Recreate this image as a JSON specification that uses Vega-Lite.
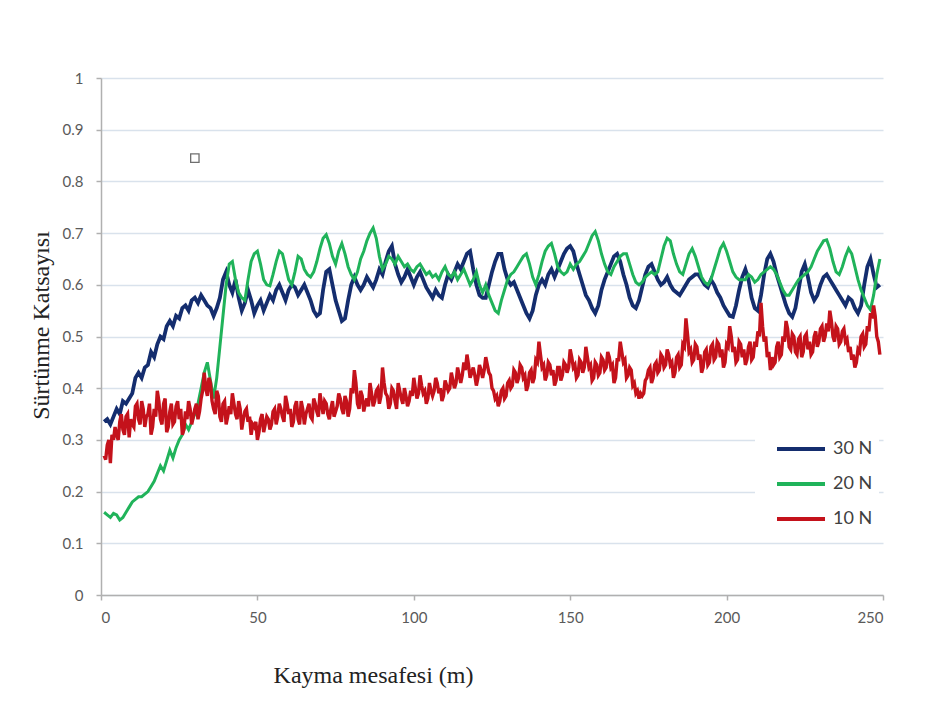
{
"$schema":"https://vega.github.io/schema/vega-lite/v6.json",
"autosize":{"type":"none"},
"width":782,"height":517,
"padding":{"left":101,"top":78,"right":51,"bottom":112},
"background":"white",
"config":{"view":{"stroke":null}},
"datasets":{
"ust":[
{"x":1,"30 N":0.335,"20 N":0.16},{"x":2,"30 N":0.34,"20 N":0.155},{"x":3,"30 N":0.33,"20 N":0.15},{"x":4,"30 N":0.345,"20 N":0.158},{"x":5,"30 N":0.36,"20 N":0.155},
{"x":6,"30 N":0.35,"20 N":0.145},{"x":7,"30 N":0.375,"20 N":0.15},{"x":8,"30 N":0.37,"20 N":0.16},{"x":9,"30 N":0.38,"20 N":0.17},{"x":10,"30 N":0.39,"20 N":0.18},
{"x":11,"30 N":0.42,"20 N":0.185},{"x":12,"30 N":0.43,"20 N":0.19},{"x":13,"30 N":0.42,"20 N":0.19},{"x":14,"30 N":0.44,"20 N":0.195},{"x":15,"30 N":0.445,"20 N":0.20},
{"x":16,"30 N":0.47,"20 N":0.21},{"x":17,"30 N":0.46,"20 N":0.22},{"x":18,"30 N":0.485,"20 N":0.235},{"x":19,"30 N":0.50,"20 N":0.25},{"x":20,"30 N":0.495,"20 N":0.24},
{"x":21,"30 N":0.52,"20 N":0.26},{"x":22,"30 N":0.53,"20 N":0.28},{"x":23,"30 N":0.52,"20 N":0.265},{"x":24,"30 N":0.54,"20 N":0.285},{"x":25,"30 N":0.535,"20 N":0.30},
{"x":26,"30 N":0.555,"20 N":0.31},{"x":27,"30 N":0.56,"20 N":0.33},{"x":28,"30 N":0.55,"20 N":0.32},{"x":29,"30 N":0.57,"20 N":0.335},{"x":30,"30 N":0.575,"20 N":0.35},
{"x":31,"30 N":0.565,"20 N":0.37},{"x":32,"30 N":0.58,"20 N":0.40},{"x":33,"30 N":0.57,"20 N":0.43},{"x":34,"30 N":0.56,"20 N":0.45},{"x":35,"30 N":0.555,"20 N":0.415},
{"x":36,"30 N":0.54,"20 N":0.38},{"x":37,"30 N":0.555,"20 N":0.42},{"x":38,"30 N":0.575,"20 N":0.48},{"x":39,"30 N":0.61,"20 N":0.54},{"x":40,"30 N":0.625,"20 N":0.60},
{"x":41,"30 N":0.60,"20 N":0.64},{"x":42,"30 N":0.585,"20 N":0.645},{"x":43,"30 N":0.61,"20 N":0.61},{"x":44,"30 N":0.575,"20 N":0.585},{"x":45,"30 N":0.55,"20 N":0.575},
{"x":46,"30 N":0.565,"20 N":0.57},{"x":47,"30 N":0.59,"20 N":0.61},{"x":48,"30 N":0.57,"20 N":0.645},{"x":49,"30 N":0.545,"20 N":0.66},{"x":50,"30 N":0.56,"20 N":0.665},
{"x":51,"30 N":0.57,"20 N":0.64},{"x":52,"30 N":0.55,"20 N":0.61},{"x":53,"30 N":0.565,"20 N":0.60},{"x":54,"30 N":0.58,"20 N":0.598},{"x":55,"30 N":0.57,"20 N":0.62},
{"x":56,"30 N":0.59,"20 N":0.645},{"x":57,"30 N":0.60,"20 N":0.665},{"x":58,"30 N":0.585,"20 N":0.66},{"x":59,"30 N":0.57,"20 N":0.635},{"x":60,"30 N":0.59,"20 N":0.61},
{"x":61,"30 N":0.60,"20 N":0.60},{"x":62,"30 N":0.595,"20 N":0.625},{"x":63,"30 N":0.58,"20 N":0.655},{"x":64,"30 N":0.59,"20 N":0.65},{"x":65,"30 N":0.60,"20 N":0.63},
{"x":66,"30 N":0.585,"20 N":0.62},{"x":67,"30 N":0.57,"20 N":0.615},{"x":68,"30 N":0.55,"20 N":0.625},{"x":69,"30 N":0.54,"20 N":0.645},{"x":70,"30 N":0.545,"20 N":0.67},
{"x":71,"30 N":0.59,"20 N":0.69},{"x":72,"30 N":0.625,"20 N":0.697},{"x":73,"30 N":0.63,"20 N":0.68},{"x":74,"30 N":0.60,"20 N":0.655},{"x":75,"30 N":0.57,"20 N":0.64},
{"x":76,"30 N":0.55,"20 N":0.665},{"x":77,"30 N":0.53,"20 N":0.68},{"x":78,"30 N":0.535,"20 N":0.66},{"x":79,"30 N":0.57,"20 N":0.635},{"x":80,"30 N":0.60,"20 N":0.62},
{"x":81,"30 N":0.615,"20 N":0.61},{"x":82,"30 N":0.60,"20 N":0.625},{"x":83,"30 N":0.59,"20 N":0.65},{"x":84,"30 N":0.60,"20 N":0.665},{"x":85,"30 N":0.615,"20 N":0.685},
{"x":86,"30 N":0.605,"20 N":0.70},{"x":87,"30 N":0.595,"20 N":0.71},{"x":88,"30 N":0.61,"20 N":0.69},{"x":89,"30 N":0.63,"20 N":0.655},{"x":90,"30 N":0.62,"20 N":0.63},
{"x":91,"30 N":0.645,"20 N":0.64},{"x":92,"30 N":0.665,"20 N":0.655},{"x":93,"30 N":0.675,"20 N":0.65},{"x":94,"30 N":0.64,"20 N":0.64},{"x":95,"30 N":0.62,"20 N":0.655},
{"x":96,"30 N":0.605,"20 N":0.645},{"x":97,"30 N":0.615,"20 N":0.635},{"x":98,"30 N":0.63,"20 N":0.64},{"x":99,"30 N":0.615,"20 N":0.63},{"x":100,"30 N":0.60,"20 N":0.625},
{"x":101,"30 N":0.615,"20 N":0.635},{"x":102,"30 N":0.625,"20 N":0.64},{"x":103,"30 N":0.61,"20 N":0.63},{"x":104,"30 N":0.595,"20 N":0.62},{"x":105,"30 N":0.585,"20 N":0.625},
{"x":106,"30 N":0.575,"20 N":0.615},{"x":107,"30 N":0.59,"20 N":0.62},{"x":108,"30 N":0.58,"20 N":0.61},{"x":109,"30 N":0.575,"20 N":0.625},{"x":110,"30 N":0.60,"20 N":0.635},
{"x":111,"30 N":0.62,"20 N":0.62},{"x":112,"30 N":0.61,"20 N":0.615},{"x":113,"30 N":0.625,"20 N":0.625},{"x":114,"30 N":0.64,"20 N":0.61},{"x":115,"30 N":0.63,"20 N":0.62},
{"x":116,"30 N":0.645,"20 N":0.63},{"x":117,"30 N":0.66,"20 N":0.615},{"x":118,"30 N":0.665,"20 N":0.60},{"x":119,"30 N":0.63,"20 N":0.61},{"x":120,"30 N":0.60,"20 N":0.625},
{"x":121,"30 N":0.58,"20 N":0.60},{"x":122,"30 N":0.575,"20 N":0.585},{"x":123,"30 N":0.575,"20 N":0.60},{"x":124,"30 N":0.60,"20 N":0.58},{"x":125,"30 N":0.625,"20 N":0.565},
{"x":126,"30 N":0.645,"20 N":0.55},{"x":127,"30 N":0.66,"20 N":0.545},{"x":128,"30 N":0.66,"20 N":0.57},{"x":129,"30 N":0.63,"20 N":0.59},{"x":130,"30 N":0.61,"20 N":0.61},
{"x":131,"30 N":0.60,"20 N":0.62},{"x":132,"30 N":0.605,"20 N":0.625},{"x":133,"30 N":0.59,"20 N":0.635},{"x":134,"30 N":0.575,"20 N":0.645},{"x":135,"30 N":0.56,"20 N":0.655},
{"x":136,"30 N":0.545,"20 N":0.66},{"x":137,"30 N":0.535,"20 N":0.64},{"x":138,"30 N":0.55,"20 N":0.615},{"x":139,"30 N":0.58,"20 N":0.60},{"x":140,"30 N":0.60,"20 N":0.62},
{"x":141,"30 N":0.61,"20 N":0.645},{"x":142,"30 N":0.60,"20 N":0.665},{"x":143,"30 N":0.62,"20 N":0.675},{"x":144,"30 N":0.63,"20 N":0.68},{"x":145,"30 N":0.615,"20 N":0.66},
{"x":146,"30 N":0.63,"20 N":0.635},{"x":147,"30 N":0.645,"20 N":0.625},{"x":148,"30 N":0.66,"20 N":0.62},{"x":149,"30 N":0.67,"20 N":0.625},{"x":150,"30 N":0.675,"20 N":0.64},
{"x":151,"30 N":0.665,"20 N":0.63},{"x":152,"30 N":0.64,"20 N":0.64},{"x":153,"30 N":0.62,"20 N":0.645},{"x":154,"30 N":0.60,"20 N":0.655},{"x":155,"30 N":0.58,"20 N":0.665},
{"x":156,"30 N":0.57,"20 N":0.68},{"x":157,"30 N":0.555,"20 N":0.695},{"x":158,"30 N":0.545,"20 N":0.703},{"x":159,"30 N":0.56,"20 N":0.685},{"x":160,"30 N":0.59,"20 N":0.66},
{"x":161,"30 N":0.61,"20 N":0.64},{"x":162,"30 N":0.625,"20 N":0.625},{"x":163,"30 N":0.64,"20 N":0.62},{"x":164,"30 N":0.655,"20 N":0.635},{"x":165,"30 N":0.66,"20 N":0.645},
{"x":166,"30 N":0.645,"20 N":0.655},{"x":167,"30 N":0.62,"20 N":0.66},{"x":168,"30 N":0.60,"20 N":0.66},{"x":169,"30 N":0.575,"20 N":0.64},{"x":170,"30 N":0.56,"20 N":0.62},
{"x":171,"30 N":0.555,"20 N":0.605},{"x":172,"30 N":0.57,"20 N":0.60},{"x":173,"30 N":0.595,"20 N":0.605},{"x":174,"30 N":0.62,"20 N":0.615},{"x":175,"30 N":0.635,"20 N":0.62},
{"x":176,"30 N":0.64,"20 N":0.625},{"x":177,"30 N":0.625,"20 N":0.62},{"x":178,"30 N":0.61,"20 N":0.625},{"x":179,"30 N":0.60,"20 N":0.65},{"x":180,"30 N":0.605,"20 N":0.675},
{"x":181,"30 N":0.615,"20 N":0.69},{"x":182,"30 N":0.60,"20 N":0.685},{"x":183,"30 N":0.59,"20 N":0.66},{"x":184,"30 N":0.585,"20 N":0.64},{"x":185,"30 N":0.58,"20 N":0.625},
{"x":186,"30 N":0.59,"20 N":0.62},{"x":187,"30 N":0.60,"20 N":0.64},{"x":188,"30 N":0.61,"20 N":0.66},{"x":189,"30 N":0.615,"20 N":0.67},{"x":190,"30 N":0.62,"20 N":0.655},
{"x":191,"30 N":0.62,"20 N":0.635},{"x":192,"30 N":0.61,"20 N":0.615},{"x":193,"30 N":0.60,"20 N":0.605},{"x":194,"30 N":0.595,"20 N":0.60},{"x":195,"30 N":0.61,"20 N":0.61},
{"x":196,"30 N":0.60,"20 N":0.63},{"x":197,"30 N":0.585,"20 N":0.65},{"x":198,"30 N":0.575,"20 N":0.67},{"x":199,"30 N":0.56,"20 N":0.68},{"x":200,"30 N":0.55,"20 N":0.665},
{"x":201,"30 N":0.54,"20 N":0.645},{"x":202,"30 N":0.538,"20 N":0.625},{"x":203,"30 N":0.56,"20 N":0.615},{"x":204,"30 N":0.59,"20 N":0.61},{"x":205,"30 N":0.615,"20 N":0.61},
{"x":206,"30 N":0.63,"20 N":0.61},{"x":207,"30 N":0.61,"20 N":0.62},{"x":208,"30 N":0.575,"20 N":0.615},{"x":209,"30 N":0.555,"20 N":0.605},{"x":210,"30 N":0.55,"20 N":0.61},
{"x":211,"30 N":0.58,"20 N":0.62},{"x":212,"30 N":0.62,"20 N":0.625},{"x":213,"30 N":0.65,"20 N":0.63},{"x":214,"30 N":0.66,"20 N":0.635},{"x":215,"30 N":0.645,"20 N":0.63},
{"x":216,"30 N":0.62,"20 N":0.62},{"x":217,"30 N":0.60,"20 N":0.605},{"x":218,"30 N":0.58,"20 N":0.59},{"x":219,"30 N":0.56,"20 N":0.58},{"x":220,"30 N":0.545,"20 N":0.58},
{"x":221,"30 N":0.538,"20 N":0.59},{"x":222,"30 N":0.555,"20 N":0.60},{"x":223,"30 N":0.59,"20 N":0.61},{"x":224,"30 N":0.625,"20 N":0.615},{"x":225,"30 N":0.64,"20 N":0.62},
{"x":226,"30 N":0.615,"20 N":0.625},{"x":227,"30 N":0.585,"20 N":0.635},{"x":228,"30 N":0.57,"20 N":0.65},{"x":229,"30 N":0.58,"20 N":0.665},{"x":230,"30 N":0.60,"20 N":0.675},
{"x":231,"30 N":0.615,"20 N":0.685},{"x":232,"30 N":0.62,"20 N":0.687},{"x":233,"30 N":0.61,"20 N":0.67},{"x":234,"30 N":0.60,"20 N":0.645},{"x":235,"30 N":0.59,"20 N":0.625},
{"x":236,"30 N":0.58,"20 N":0.62},{"x":237,"30 N":0.57,"20 N":0.635},{"x":238,"30 N":0.56,"20 N":0.655},{"x":239,"30 N":0.575,"20 N":0.67},{"x":240,"30 N":0.57,"20 N":0.66},
{"x":241,"30 N":0.555,"20 N":0.635},{"x":242,"30 N":0.545,"20 N":0.61},{"x":243,"30 N":0.56,"20 N":0.59},{"x":244,"30 N":0.60,"20 N":0.575},{"x":245,"30 N":0.635,"20 N":0.56},
{"x":246,"30 N":0.65,"20 N":0.552},{"x":247,"30 N":0.62,"20 N":0.58},{"x":248,"30 N":0.595,"20 N":0.62},{"x":249,"30 N":0.60,"20 N":0.65}
],
"alt":[
{"x":1,"10 N":0.27},{"x":1.5,"10 N":0.262},{"x":2,"10 N":0.29},{"x":2.5,"10 N":0.30},{"x":3,"10 N":0.255},{"x":3.5,"10 N":0.31},{"x":4,"10 N":0.30},{"x":4.5,"10 N":0.325},{"x":5,"10 N":0.31},{"x":5.5,"10 N":0.30},
{"x":6,"10 N":0.335},{"x":6.5,"10 N":0.35},{"x":7,"10 N":0.32},{"x":7.5,"10 N":0.31},{"x":8,"10 N":0.345},{"x":8.5,"10 N":0.35},{"x":9,"10 N":0.305},{"x":9.5,"10 N":0.34},{"x":10,"10 N":0.33},{"x":10.5,"10 N":0.325},
{"x":11,"10 N":0.365},{"x":11.5,"10 N":0.37},{"x":12,"10 N":0.34},{"x":12.5,"10 N":0.33},{"x":13,"10 N":0.375},{"x":13.5,"10 N":0.36},{"x":14,"10 N":0.325},{"x":14.5,"10 N":0.345},{"x":15,"10 N":0.35},{"x":15.5,"10 N":0.37},
{"x":16,"10 N":0.31},{"x":16.5,"10 N":0.325},{"x":17,"10 N":0.36},{"x":17.5,"10 N":0.345},{"x":18,"10 N":0.395},{"x":18.5,"10 N":0.375},{"x":19,"10 N":0.34},{"x":19.5,"10 N":0.33},{"x":20,"10 N":0.37},{"x":20.5,"10 N":0.38},
{"x":21,"10 N":0.315},{"x":21.5,"10 N":0.325},{"x":22,"10 N":0.355},{"x":22.5,"10 N":0.37},{"x":23,"10 N":0.33},{"x":23.5,"10 N":0.335},{"x":24,"10 N":0.365},{"x":24.5,"10 N":0.375},{"x":25,"10 N":0.34},{"x":25.5,"10 N":0.36},
{"x":26,"10 N":0.31},{"x":26.5,"10 N":0.32},{"x":27,"10 N":0.355},{"x":27.5,"10 N":0.34},{"x":28,"10 N":0.375},{"x":28.5,"10 N":0.36},{"x":29,"10 N":0.33},{"x":29.5,"10 N":0.345},{"x":30,"10 N":0.36},{"x":30.5,"10 N":0.37},
{"x":31,"10 N":0.34},{"x":31.5,"10 N":0.355},{"x":32,"10 N":0.38},{"x":32.5,"10 N":0.395},{"x":33,"10 N":0.43},{"x":33.5,"10 N":0.40},{"x":34,"10 N":0.385},{"x":34.5,"10 N":0.42},{"x":35,"10 N":0.41},{"x":35.5,"10 N":0.375},
{"x":36,"10 N":0.36},{"x":36.5,"10 N":0.35},{"x":37,"10 N":0.395},{"x":37.5,"10 N":0.385},{"x":38,"10 N":0.345},{"x":38.5,"10 N":0.335},{"x":39,"10 N":0.37},{"x":39.5,"10 N":0.375},{"x":40,"10 N":0.33},{"x":40.5,"10 N":0.345},
{"x":41,"10 N":0.365},{"x":41.5,"10 N":0.35},{"x":42,"10 N":0.39},{"x":42.5,"10 N":0.37},{"x":43,"10 N":0.35},{"x":43.5,"10 N":0.34},{"x":44,"10 N":0.375},{"x":44.5,"10 N":0.36},{"x":45,"10 N":0.32},{"x":45.5,"10 N":0.34},
{"x":46,"10 N":0.355},{"x":46.5,"10 N":0.36},{"x":47,"10 N":0.335},{"x":47.5,"10 N":0.345},{"x":48,"10 N":0.31},{"x":48.5,"10 N":0.33},{"x":49,"10 N":0.325},{"x":49.5,"10 N":0.335},{"x":50,"10 N":0.30},{"x":50.5,"10 N":0.315},
{"x":51,"10 N":0.34},{"x":51.5,"10 N":0.35},{"x":52,"10 N":0.315},{"x":52.5,"10 N":0.33},{"x":53,"10 N":0.345},{"x":53.5,"10 N":0.34},{"x":54,"10 N":0.32},{"x":54.5,"10 N":0.33},{"x":55,"10 N":0.355},{"x":55.5,"10 N":0.36},
{"x":56,"10 N":0.33},{"x":56.5,"10 N":0.345},{"x":57,"10 N":0.37},{"x":57.5,"10 N":0.36},{"x":58,"10 N":0.345},{"x":58.5,"10 N":0.335},{"x":59,"10 N":0.385},{"x":59.5,"10 N":0.37},{"x":60,"10 N":0.35},{"x":60.5,"10 N":0.36},
{"x":61,"10 N":0.325},{"x":61.5,"10 N":0.335},{"x":62,"10 N":0.365},{"x":62.5,"10 N":0.375},{"x":63,"10 N":0.34},{"x":63.5,"10 N":0.33},{"x":64,"10 N":0.375},{"x":64.5,"10 N":0.36},{"x":65,"10 N":0.33},{"x":65.5,"10 N":0.35},
{"x":66,"10 N":0.36},{"x":66.5,"10 N":0.37},{"x":67,"10 N":0.345},{"x":67.5,"10 N":0.34},{"x":68,"10 N":0.38},{"x":68.5,"10 N":0.37},{"x":69,"10 N":0.355},{"x":69.5,"10 N":0.345},{"x":70,"10 N":0.39},{"x":70.5,"10 N":0.37},
{"x":71,"10 N":0.35},{"x":71.5,"10 N":0.375},{"x":72,"10 N":0.37},{"x":72.5,"10 N":0.35},{"x":73,"10 N":0.34},{"x":73.5,"10 N":0.36},{"x":74,"10 N":0.375},{"x":74.5,"10 N":0.345},{"x":75,"10 N":0.355},{"x":75.5,"10 N":0.365},
{"x":76,"10 N":0.39},{"x":76.5,"10 N":0.38},{"x":77,"10 N":0.36},{"x":77.5,"10 N":0.35},{"x":78,"10 N":0.385},{"x":78.5,"10 N":0.375},{"x":79,"10 N":0.345},{"x":79.5,"10 N":0.36},{"x":80,"10 N":0.40},{"x":80.5,"10 N":0.39},
{"x":81,"10 N":0.435},{"x":81.5,"10 N":0.41},{"x":82,"10 N":0.37},{"x":82.5,"10 N":0.36},{"x":83,"10 N":0.395},{"x":83.5,"10 N":0.385},{"x":84,"10 N":0.355},{"x":84.5,"10 N":0.37},{"x":85,"10 N":0.38},{"x":85.5,"10 N":0.365},
{"x":86,"10 N":0.41},{"x":86.5,"10 N":0.39},{"x":87,"10 N":0.365},{"x":87.5,"10 N":0.375},{"x":88,"10 N":0.395},{"x":88.5,"10 N":0.40},{"x":89,"10 N":0.37},{"x":89.5,"10 N":0.385},{"x":90,"10 N":0.44},{"x":90.5,"10 N":0.41},
{"x":91,"10 N":0.39},{"x":91.5,"10 N":0.385},{"x":92,"10 N":0.36},{"x":92.5,"10 N":0.37},{"x":93,"10 N":0.40},{"x":93.5,"10 N":0.395},{"x":94,"10 N":0.375},{"x":94.5,"10 N":0.36},{"x":95,"10 N":0.41},{"x":95.5,"10 N":0.395},
{"x":96,"10 N":0.38},{"x":96.5,"10 N":0.37},{"x":97,"10 N":0.40},{"x":97.5,"10 N":0.385},{"x":98,"10 N":0.365},{"x":98.5,"10 N":0.375},{"x":99,"10 N":0.395},{"x":99.5,"10 N":0.385},{"x":100,"10 N":0.42},{"x":100.5,"10 N":0.40},
{"x":101,"10 N":0.38},{"x":101.5,"10 N":0.39},{"x":102,"10 N":0.425},{"x":102.5,"10 N":0.405},{"x":103,"10 N":0.39},{"x":103.5,"10 N":0.395},{"x":104,"10 N":0.37},{"x":104.5,"10 N":0.38},{"x":105,"10 N":0.41},{"x":105.5,"10 N":0.395},
{"x":106,"10 N":0.385},{"x":106.5,"10 N":0.395},{"x":107,"10 N":0.42},{"x":107.5,"10 N":0.41},{"x":108,"10 N":0.39},{"x":108.5,"10 N":0.40},{"x":109,"10 N":0.375},{"x":109.5,"10 N":0.385},{"x":110,"10 N":0.415},{"x":110.5,"10 N":0.405},
{"x":111,"10 N":0.395},{"x":111.5,"10 N":0.40},{"x":112,"10 N":0.43},{"x":112.5,"10 N":0.415},{"x":113,"10 N":0.40},{"x":113.5,"10 N":0.41},{"x":114,"10 N":0.44},{"x":114.5,"10 N":0.425},{"x":115,"10 N":0.41},{"x":115.5,"10 N":0.425},
{"x":116,"10 N":0.45},{"x":116.5,"10 N":0.435},{"x":117,"10 N":0.465},{"x":117.5,"10 N":0.445},{"x":118,"10 N":0.42},{"x":118.5,"10 N":0.43},{"x":119,"10 N":0.44},{"x":119.5,"10 N":0.425},{"x":120,"10 N":0.405},{"x":120.5,"10 N":0.42},
{"x":121,"10 N":0.445},{"x":121.5,"10 N":0.435},{"x":122,"10 N":0.42},{"x":122.5,"10 N":0.435},{"x":123,"10 N":0.46},{"x":123.5,"10 N":0.445},{"x":124,"10 N":0.43},{"x":124.5,"10 N":0.425},{"x":125,"10 N":0.40},{"x":125.5,"10 N":0.395},
{"x":126,"10 N":0.38},{"x":126.5,"10 N":0.385},{"x":127,"10 N":0.365},{"x":127.5,"10 N":0.375},{"x":128,"10 N":0.395},{"x":128.5,"10 N":0.40},{"x":129,"10 N":0.38},{"x":129.5,"10 N":0.385},{"x":130,"10 N":0.41},{"x":130.5,"10 N":0.415},
{"x":131,"10 N":0.40},{"x":131.5,"10 N":0.405},{"x":132,"10 N":0.435},{"x":132.5,"10 N":0.43},{"x":133,"10 N":0.41},{"x":133.5,"10 N":0.42},{"x":134,"10 N":0.445},{"x":134.5,"10 N":0.44},{"x":135,"10 N":0.42},{"x":135.5,"10 N":0.425},
{"x":136,"10 N":0.395},{"x":136.5,"10 N":0.405},{"x":137,"10 N":0.43},{"x":137.5,"10 N":0.435},{"x":138,"10 N":0.41},{"x":138.5,"10 N":0.42},{"x":139,"10 N":0.455},{"x":139.5,"10 N":0.45},{"x":140,"10 N":0.49},{"x":140.5,"10 N":0.465},
{"x":141,"10 N":0.44},{"x":141.5,"10 N":0.445},{"x":142,"10 N":0.415},{"x":142.5,"10 N":0.425},{"x":143,"10 N":0.45},{"x":143.5,"10 N":0.445},{"x":144,"10 N":0.425},{"x":144.5,"10 N":0.435},{"x":145,"10 N":0.405},{"x":145.5,"10 N":0.415},
{"x":146,"10 N":0.44},{"x":146.5,"10 N":0.44},{"x":147,"10 N":0.415},{"x":147.5,"10 N":0.425},{"x":148,"10 N":0.45},{"x":148.5,"10 N":0.445},{"x":149,"10 N":0.43},{"x":149.5,"10 N":0.44},{"x":150,"10 N":0.475},{"x":150.5,"10 N":0.46},
{"x":151,"10 N":0.44},{"x":151.5,"10 N":0.445},{"x":152,"10 N":0.42},{"x":152.5,"10 N":0.425},{"x":153,"10 N":0.455},{"x":153.5,"10 N":0.45},{"x":154,"10 N":0.43},{"x":154.5,"10 N":0.44},{"x":155,"10 N":0.48},{"x":155.5,"10 N":0.46},
{"x":156,"10 N":0.44},{"x":156.5,"10 N":0.445},{"x":157,"10 N":0.415},{"x":157.5,"10 N":0.42},{"x":158,"10 N":0.45},{"x":158.5,"10 N":0.445},{"x":159,"10 N":0.425},{"x":159.5,"10 N":0.43},{"x":160,"10 N":0.46},{"x":160.5,"10 N":0.455},
{"x":161,"10 N":0.435},{"x":161.5,"10 N":0.44},{"x":162,"10 N":0.47},{"x":162.5,"10 N":0.46},{"x":163,"10 N":0.44},{"x":163.5,"10 N":0.445},{"x":164,"10 N":0.41},{"x":164.5,"10 N":0.42},{"x":165,"10 N":0.455},{"x":165.5,"10 N":0.455},
{"x":166,"10 N":0.49},{"x":166.5,"10 N":0.47},{"x":167,"10 N":0.45},{"x":167.5,"10 N":0.455},{"x":168,"10 N":0.42},{"x":168.5,"10 N":0.425},{"x":169,"10 N":0.44},{"x":169.5,"10 N":0.435},{"x":170,"10 N":0.405},{"x":170.5,"10 N":0.41},
{"x":171,"10 N":0.39},{"x":171.5,"10 N":0.395},{"x":172,"10 N":0.38},{"x":172.5,"10 N":0.39},{"x":173,"10 N":0.385},{"x":173.5,"10 N":0.39},{"x":174,"10 N":0.415},{"x":174.5,"10 N":0.42},{"x":175,"10 N":0.435},{"x":175.5,"10 N":0.44},
{"x":176,"10 N":0.41},{"x":176.5,"10 N":0.42},{"x":177,"10 N":0.445},{"x":177.5,"10 N":0.45},{"x":178,"10 N":0.43},{"x":178.5,"10 N":0.435},{"x":179,"10 N":0.465},{"x":179.5,"10 N":0.46},{"x":180,"10 N":0.44},{"x":180.5,"10 N":0.445},
{"x":181,"10 N":0.475},{"x":181.5,"10 N":0.465},{"x":182,"10 N":0.445},{"x":182.5,"10 N":0.45},{"x":183,"10 N":0.42},{"x":183.5,"10 N":0.43},{"x":184,"10 N":0.46},{"x":184.5,"10 N":0.465},{"x":185,"10 N":0.44},{"x":185.5,"10 N":0.445},
{"x":186,"10 N":0.485},{"x":186.5,"10 N":0.48},{"x":187,"10 N":0.535},{"x":187.5,"10 N":0.505},{"x":188,"10 N":0.47},{"x":188.5,"10 N":0.475},{"x":189,"10 N":0.45},{"x":189.5,"10 N":0.455},{"x":190,"10 N":0.485},{"x":190.5,"10 N":0.48},
{"x":191,"10 N":0.455},{"x":191.5,"10 N":0.465},{"x":192,"10 N":0.43},{"x":192.5,"10 N":0.44},{"x":193,"10 N":0.47},{"x":193.5,"10 N":0.475},{"x":194,"10 N":0.445},{"x":194.5,"10 N":0.45},{"x":195,"10 N":0.48},{"x":195.5,"10 N":0.485},
{"x":196,"10 N":0.455},{"x":196.5,"10 N":0.46},{"x":197,"10 N":0.49},{"x":197.5,"10 N":0.485},{"x":198,"10 N":0.46},{"x":198.5,"10 N":0.475},{"x":199,"10 N":0.44},{"x":199.5,"10 N":0.45},{"x":200,"10 N":0.485},{"x":200.5,"10 N":0.48},
{"x":201,"10 N":0.52},{"x":201.5,"10 N":0.50},{"x":202,"10 N":0.47},{"x":202.5,"10 N":0.48},{"x":203,"10 N":0.45},{"x":203.5,"10 N":0.455},{"x":204,"10 N":0.49},{"x":204.5,"10 N":0.485},{"x":205,"10 N":0.46},{"x":205.5,"10 N":0.475},
{"x":206,"10 N":0.445},{"x":206.5,"10 N":0.455},{"x":207,"10 N":0.48},{"x":207.5,"10 N":0.49},{"x":208,"10 N":0.455},{"x":208.5,"10 N":0.46},{"x":209,"10 N":0.49},{"x":209.5,"10 N":0.48},{"x":210,"10 N":0.51},{"x":210.5,"10 N":0.50},
{"x":211,"10 N":0.565},{"x":211.5,"10 N":0.52},{"x":212,"10 N":0.49},{"x":212.5,"10 N":0.50},{"x":213,"10 N":0.46},{"x":213.5,"10 N":0.47},{"x":214,"10 N":0.435},{"x":214.5,"10 N":0.46},{"x":215,"10 N":0.445},{"x":215.5,"10 N":0.45},
{"x":216,"10 N":0.48},{"x":216.5,"10 N":0.49},{"x":217,"10 N":0.46},{"x":217.5,"10 N":0.465},{"x":218,"10 N":0.50},{"x":218.5,"10 N":0.49},{"x":219,"10 N":0.53},{"x":219.5,"10 N":0.515},{"x":220,"10 N":0.48},{"x":220.5,"10 N":0.475},
{"x":221,"10 N":0.505},{"x":221.5,"10 N":0.50},{"x":222,"10 N":0.47},{"x":222.5,"10 N":0.465},{"x":223,"10 N":0.495},{"x":223.5,"10 N":0.50},{"x":224,"10 N":0.46},{"x":224.5,"10 N":0.47},{"x":225,"10 N":0.50},{"x":225.5,"10 N":0.505},
{"x":226,"10 N":0.475},{"x":226.5,"10 N":0.49},{"x":227,"10 N":0.465},{"x":227.5,"10 N":0.47},{"x":228,"10 N":0.50},{"x":228.5,"10 N":0.51},{"x":229,"10 N":0.48},{"x":229.5,"10 N":0.49},{"x":230,"10 N":0.515},{"x":230.5,"10 N":0.52},
{"x":231,"10 N":0.49},{"x":231.5,"10 N":0.50},{"x":232,"10 N":0.525},{"x":232.5,"10 N":0.51},{"x":233,"10 N":0.55},{"x":233.5,"10 N":0.53},{"x":234,"10 N":0.50},{"x":234.5,"10 N":0.49},{"x":235,"10 N":0.52},{"x":235.5,"10 N":0.515},
{"x":236,"10 N":0.485},{"x":236.5,"10 N":0.49},{"x":237,"10 N":0.51},{"x":237.5,"10 N":0.515},{"x":238,"10 N":0.49},{"x":238.5,"10 N":0.495},{"x":239,"10 N":0.47},{"x":239.5,"10 N":0.48},{"x":240,"10 N":0.455},{"x":240.5,"10 N":0.465},
{"x":241,"10 N":0.44},{"x":241.5,"10 N":0.45},{"x":242,"10 N":0.475},{"x":242.5,"10 N":0.47},{"x":243,"10 N":0.50},{"x":243.5,"10 N":0.505},{"x":244,"10 N":0.48},{"x":244.5,"10 N":0.485},{"x":245,"10 N":0.52},{"x":245.5,"10 N":0.51},
{"x":246,"10 N":0.545},{"x":246.5,"10 N":0.535},{"x":247,"10 N":0.56},{"x":247.5,"10 N":0.54},{"x":248,"10 N":0.50},{"x":248.5,"10 N":0.49},{"x":249,"10 N":0.465}
],
"kare":[{"x":30,"y":0.845}]
},
"layer":[
{
"data":{"name":"ust"},
"transform":[{"fold":["30 N","20 N"],"as":["Yük","deger"]}],
"mark":{"type":"line","interpolate":"linear"},
"encoding":{
"x":{"field":"x","type":"quantitative","scale":{"domain":[0,250],"nice":false},
"axis":{"values":[0,50,100,150,200,250],"grid":false,"domainColor":"#b0b0b0","domainWidth":1.5,"tickColor":"#b0b0b0","tickSize":5,"tickWidth":1.5,
"labelFont":"Lato","labelFontSize":15,"labelColor":"#5a5a5a","labelPadding":10,
"title":"Kayma mesafesi (m)","titleFont":"Liberation Serif","titleFontSize":24,"titleFontWeight":"normal","titleColor":"#222222","titleX":272,"titleY":80,"titleAlign":"center","titleBaseline":"middle"}},
"y":{"field":"deger","type":"quantitative","scale":{"domain":[0,1],"nice":false,"zero":true},
"axis":{"values":[0,0.1,0.2,0.3,0.4,0.5,0.6,0.7,0.8,0.9,1],"format":"~g","grid":true,"gridColor":"#d9e2ec","gridWidth":1.5,"domainColor":"#b0b0b0","domainWidth":1.5,"tickColor":"#b0b0b0","tickSize":5,"tickWidth":1.5,
"labelFont":"Lato","labelFontSize":15,"labelColor":"#5a5a5a","labelPadding":13,
"title":"Sürtünme Katsayısı","titleFont":"Liberation Serif","titleFontSize":24,"titleFontWeight":"normal","titleColor":"#222222","titleX":-60,"titleY":247,"titleAngle":-90,"titleAlign":"center","titleBaseline":"middle"}},
"color":{"field":"Yük","type":"nominal","scale":{"domain":["30 N","20 N","10 N"],"range":["#142d6e","#20b35a","#c4121b"]},
"legend":{"title":null,"orient":"none","legendX":654,"legendY":339,"fillColor":"white","padding":6,"symbolOffset":14,"symbolType":"stroke","symbolSize":2304,"symbolStrokeWidth":4,"labelFont":"Lato","labelFontSize":18,"labelColor":"#404040","labelOffset":6,"rowPadding":-1}},
"strokeWidth":{"field":"Yük","type":"nominal","scale":{"domain":["30 N","20 N"],"range":[3.8,3]},"legend":null}
}
},
{
"data":{"name":"alt"},
"transform":[{"fold":["10 N"],"as":["Yük","deger"]}],
"mark":{"type":"line","strokeWidth":3.4,"interpolate":"linear"},
"encoding":{
"x":{"field":"x","type":"quantitative"},
"y":{"field":"deger","type":"quantitative"},
"color":{"field":"Yük","type":"nominal"}
}
},
{
"data":{"name":"kare"},
"mark":{"type":"point","shape":"square","filled":false,"size":70,"stroke":"#333333","strokeWidth":1.3},
"encoding":{"x":{"field":"x","type":"quantitative"},"y":{"field":"y","type":"quantitative"}}
}
]
}
